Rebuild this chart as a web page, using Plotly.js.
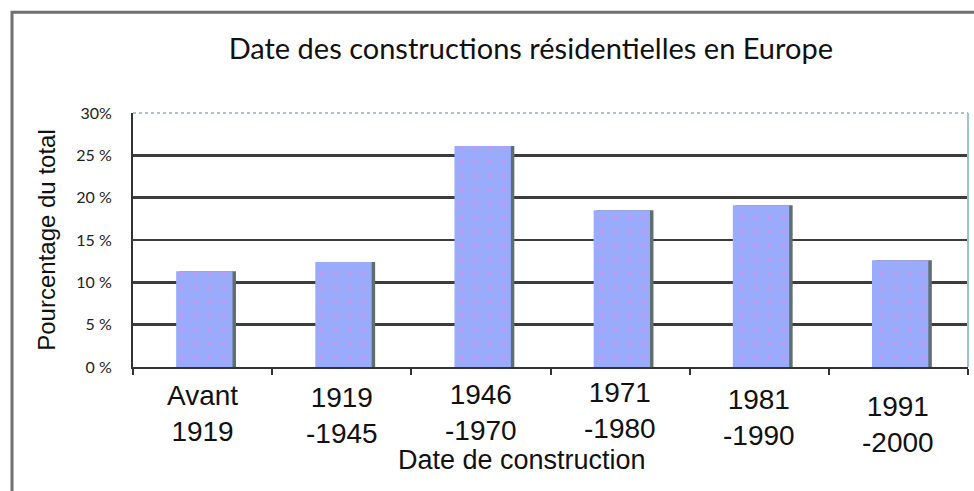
<!DOCTYPE html>
<html>
<head>
<meta charset="utf-8">
<script src="https://cdn.plot.ly/plotly-3.0.1.min.js"></script>
<style>
html,body{margin:0;padding:0;background:#fff;}
#chart{width:974px;height:491px;}
</style>
</head>
<body>
<div id="chart"></div>
<script>
// ---- data ----
const categories = ["Avant 1919", "1919-1945", "1946-1970", "1971-1980", "1981-1990", "1991-2000"];
const tickLabels = ["Avant<br>1919", "1919<br>-1945", "1946<br>-1970", "1971<br>-1980", "1981<br>-1990", "1991<br>-2000"];
const values = [11.3, 12.4, 26.1, 18.5, 19.1, 12.6];
const yTickVals = [0, 5, 10, 15, 20, 25, 30];
const yTickText = ["0 %", "5 %", "10 %", "15 %", "20 %", "25 %", "30%"];
const chartTitle = "Date des constructions résidentielles en Europe";
const xTitle = "Date de construction";
const yTitle = "Pourcentage du total";

// ---- styling (not data) ----
const labelDrop = [-11, -13, -10, -8, -15, -22];
const barColor = "#9aabfb";

const shadow = {
  type: "bar", x: categories, y: values,
  width: 0.405, offset: -0.165,
  marker: {color: "#5f6f70", line: {width: 0}},
  hoverinfo: "skip", showlegend: false
};
const bars = {
  type: "bar", x: categories, y: values,
  width: 0.405, offset: -0.19,
  marker: {
    color: barColor, line: {width: 0},
    pattern: {shape: ".", fgcolor: "#bb9cf2", bgcolor: barColor, size: 14, solidity: 0.1}
  },
  showlegend: false
};

const annotations = categories.map((c, i) => ({
  x: c, y: 0, xref: "x", yref: "y",
  text: tickLabels[i], showarrow: false,
  yanchor: "top", xanchor: "center", yshift: labelDrop[i],
  font: {family: "Liberation Sans, Arial, sans-serif", size: 28, color: "#111"}
}));
annotations.push({
  text: xTitle, xref: "paper", yref: "paper", x: 0.466, y: -0.366,
  xanchor: "center", yanchor: "middle", showarrow: false,
  font: {family: "Liberation Sans, Arial, sans-serif", size: 27, color: "#111"}
});

const layout = {
  width: 974, height: 491,
  margin: {l: 133, r: 6, t: 113, b: 124},
  paper_bgcolor: "#fff", plot_bgcolor: "#fff",
  barmode: "overlay",
  title: {
    text: chartTitle, x: 0.545, xanchor: "center", y: 0.9, yanchor: "middle", yref: "container",
    font: {family: "Lato, sans-serif", size: 29, color: "#111"}
  },
  xaxis: {
    type: "category", range: [-0.5, 5.5],
    showticklabels: false, tickson: "boundaries",
    ticks: "outside", ticklen: 6, tickwidth: 2, tickcolor: "#333",
    showline: true, linecolor: "#333", linewidth: 2,
    showgrid: false, zeroline: false,
    automargin: false
  },
  yaxis: {
    range: [0, 30], tickvals: yTickVals, ticktext: yTickText,
    ticks: "", ticklabelstandoff: 16,
    tickfont: {family: "Lato, sans-serif", size: 16, color: "#222"},
    showgrid: true, gridcolor: "#3c3c3c", gridwidth: 2.5,
    showline: true, linecolor: "#333", linewidth: 2,
    zeroline: false,
    title: {text: yTitle, standoff: 14, font: {family: "Liberation Sans, Arial, sans-serif", size: 24, color: "#111"}},
    automargin: false
  },
  annotations: annotations,
  shapes: [
    {type: "line", xref: "paper", yref: "paper", x0: 0.003, x1: 1, y0: 1, y1: 1, line: {color: "#fff", width: 4}, layer: "above"},
    {type: "line", xref: "paper", yref: "paper", x0: 0, x1: 1, y0: 1, y1: 1, line: {color: "#8fb3b8", width: 1.5, dash: "dot"}, layer: "above"},
    {type: "line", xref: "paper", yref: "paper", x0: 1, x1: 1, y0: 0, y1: 1, line: {color: "#9cc6c6", width: 2}, layer: "above"},
    {type: "rect", xref: "paper", yref: "paper", x0: -0.1449, x1: 2, y0: 1.3966, y1: -2, line: {color: "#707070", width: 3}, fillcolor: "rgba(0,0,0,0)", layer: "below"}
  ]
};

Plotly.newPlot("chart", [shadow, bars], layout, {displayModeBar: false, staticPlot: true});
</script>
</body>
</html>
